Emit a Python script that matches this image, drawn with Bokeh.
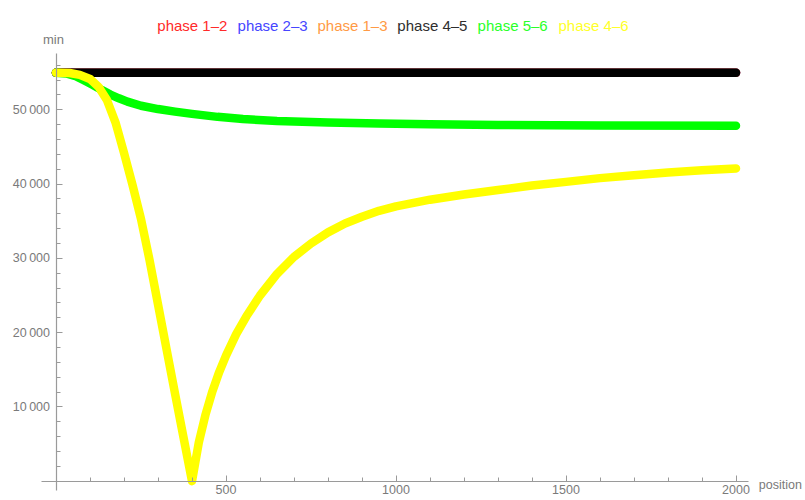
from bokeh.plotting import figure
from bokeh.models import Range1d, FixedTicker, Label, CustomJSTickFormatter
from bokeh.embed import file_html
from bokeh.resources import INLINE

# ---------------- data ----------------
flat_x = [0, 2000]
phase12_y = [55000, 55000]
phase23_y = [55000, 55000]
phase13_y = [55000, 55000]
phase45_y = [55000, 55000]

phase56_x = [0, 30, 60, 85, 110, 135, 160, 185, 210, 250, 300, 350, 400, 475, 550,
             650, 800, 950, 1100, 1300, 1600, 2000]
phase56_y = [55000, 54900, 54500, 53900, 53300, 52650, 52050, 51550, 51100, 50550,
             50100, 49750, 49450, 49050, 48750, 48500, 48300, 48150, 48050, 47950,
             47880, 47850]

phase46_x = [0, 40, 70, 100, 125, 150, 175, 200, 225, 250, 275, 300, 325, 350, 375,
             400, 420, 440, 460, 480, 500, 530, 560, 600, 650, 700, 750, 800, 850,
             900, 950, 1000, 1100, 1200, 1300, 1400, 1500, 1600, 1700, 1800, 1900,
             2000]
phase46_y = [55000, 54950, 54700, 54150, 53100, 51300, 48300, 44200, 39900, 35300,
             29800, 23800, 17800, 11800, 5900, 0, 5200, 9000, 12100, 14700, 16900,
             19800, 22200, 25000, 27900, 30200, 32000, 33500, 34700, 35600, 36400,
             37000, 37900, 38600, 39200, 39800, 40300, 40800, 41200, 41550, 41850,
             42100]

series_names = ["phase 1\u20132", "phase 2\u20133", "phase 1\u20133",
                "phase 4\u20135", "phase 5\u20136", "phase 4\u20136"]
line_colors = ["#ff0000", "#0000ff", "#ff8c1a", "#000000", "#00ff00", "#ffff00"]
legend_colors = ["#ff2a2a", "#4646ff", "#ff9a45", "#2e2e2e", "#2aff2a", "#ffff2a"]

x_major = [500, 1000, 1500, 2000]
x_minor = [100, 200, 300, 400, 600, 700, 800, 900, 1100, 1200, 1300, 1400,
           1600, 1700, 1800, 1900]
y_major = [10000, 20000, 30000, 40000, 50000]
y_minor = [2000, 4000, 6000, 8000, 12000, 14000, 16000, 18000, 22000, 24000,
           26000, 28000, 32000, 34000, 36000, 38000, 42000, 44000, 46000, 48000,
           52000, 54000, 56000]

# ---------------- figure ----------------
p = figure(width=805, height=500, output_backend="svg", toolbar_location=None,
           x_range=Range1d(-163.24, 2204.41), y_range=Range1d(-2598.3, 64714.6),
           min_border=0, min_border_left=0, min_border_right=0,
           min_border_top=0, min_border_bottom=0)
p.title.visible = False
p.outline_line_color = None
p.grid.visible = False
p.background_fill_color = "white"
p.border_fill_color = "white"

series = [
    (flat_x, phase12_y),
    (flat_x, phase23_y),
    (flat_x, phase13_y),
    (flat_x, phase45_y),
    (phase56_x, phase56_y),
    (phase46_x, phase46_y),
]
for (xs, ys), col in zip(series, line_colors):
    p.line(xs, ys, line_color=col, line_width=8.5, line_cap="round",
           line_join="round")

axis_col = "#9a9a9a"
text_col = "#7a7a7a"
font = "Liberation Sans"

xa = p.xaxis[0]
ya = p.yaxis[0]
xa.ticker = FixedTicker(ticks=x_major, minor_ticks=x_minor)
ya.ticker = FixedTicker(ticks=y_major, minor_ticks=y_minor)
ya.formatter = CustomJSTickFormatter(code="""
const s = Math.round(tick).toString();
if (s.length > 4) { return s.slice(0, s.length - 3) + '\\u2009' + s.slice(s.length - 3); }
return s;
""")
xa.bounds = (-42.6, 2036.8)
ya.bounds = (-1252, 57580)
for ax in (xa, ya):
    ax.fixed_location = 0
    ax.axis_line_color = axis_col
    ax.axis_line_width = 1.2
    ax.major_tick_line_color = axis_col
    ax.minor_tick_line_color = axis_col
    ax.major_tick_in = 6
    ax.major_tick_out = 0
    ax.minor_tick_in = 4
    ax.minor_tick_out = 0
    ax.major_label_text_color = text_col
    ax.major_label_text_font = font
    ax.major_label_text_font_size = "12.5px"
xa.major_label_standoff = 4
ya.major_label_standoff = 6

# axis names
p.add_layout(Label(x=-7.4, y=59420, text="min", text_align="center",
                   text_baseline="alphabetic", text_color=text_col,
                   text_font=font, text_font_size="13px"))
p.add_layout(Label(x=2067, y=-485, text="position", text_align="left",
                   text_baseline="alphabetic", text_color=text_col,
                   text_font=font, text_font_size="12.5px"))

# legend row
legend_x = [298, 534, 769, 1004, 1240, 1478]
for lx, name, col in zip(legend_x, series_names, legend_colors):
    p.add_layout(Label(x=lx, y=61350, text=name, text_align="left",
                       text_baseline="alphabetic", text_color=col,
                       text_font=font, text_font_size="15px"))

open("out.html", "w").write(file_html(p, INLINE))
